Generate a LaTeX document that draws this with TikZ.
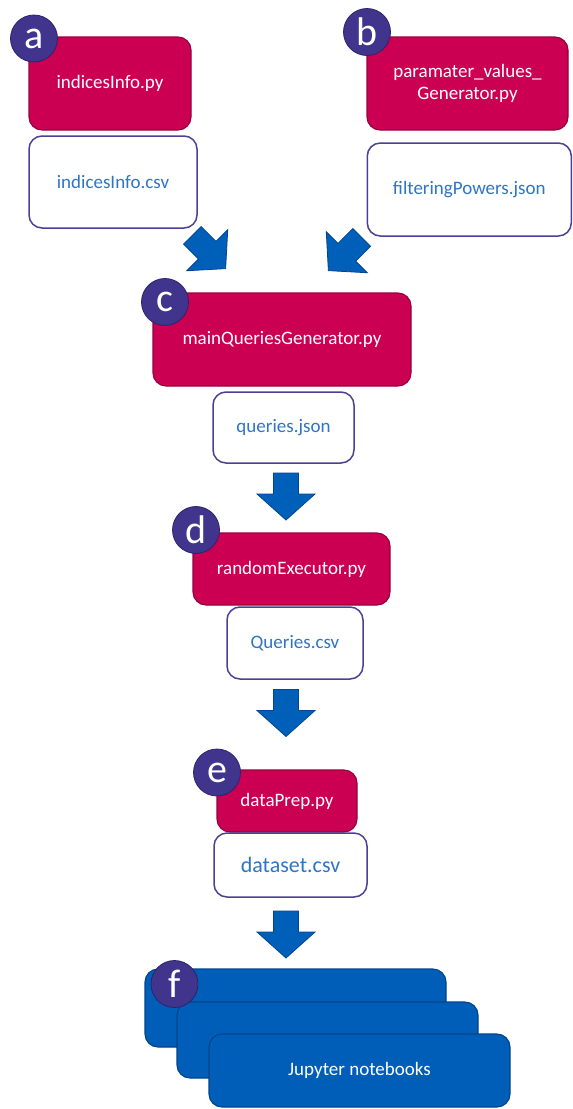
\documentclass[tikz,border=0pt]{standalone}
\usepackage{fontspec}
\setmainfont{Carlito}
\definecolor{scriptfill}{RGB}{204,0,82}
\definecolor{scriptedge}{RGB}{150,0,60}
\definecolor{tagfill}{RGB}{64,52,140}
\definecolor{tagedge}{RGB}{45,35,105}
\definecolor{fileedge}{RGB}{75,63,150}
\definecolor{filetext}{RGB}{46,117,197}
\definecolor{nbfill}{RGB}{0,94,184}
\definecolor{nbedge}{RGB}{0,68,140}
\definecolor{arrowfill}{RGB}{0,96,185}
\definecolor{arrowedge}{RGB}{0,70,145}
\begin{document}
\begin{tikzpicture}[x=1pt,y=-1pt,
  script/.style={draw=scriptedge, fill=scriptfill, rounded corners=13pt,
    line width=1.1pt, text=white, inner sep=0pt, align=center,
    font=\fontsize{19}{22}\selectfont},
  datafile/.style={draw=fileedge, fill=white, rounded corners=13pt,
    line width=1.5pt, text=filetext, inner sep=0pt,
    font=\fontsize{19}{22}\selectfont},
  notebook/.style={draw=nbedge, fill=nbfill, rounded corners=13pt,
    line width=1.1pt, text=white, inner sep=0pt,
    font=\fontsize{19}{22}\selectfont, minimum width=301pt},
  tag/.style={circle, fill=tagfill, draw=tagedge, line width=0.8pt,
    text=white, minimum size=47pt, inner sep=0pt,
    font=\fontsize{40}{40}\selectfont},
  blockarrow/.pic={
    \path[fill=arrowfill, draw=arrowedge, line width=0.8pt, line join=miter]
      (-12.5,-23.5) -- (12.5,-23.5) -- (12.5,-2.5) -- (29,-2.5)
      -- (0,23.5) -- (-29,-2.5) -- (-12.5,-2.5) -- cycle;
  }
]
\useasboundingbox (0,0) rectangle (573,1109);

% step a: index information
\node[script, minimum width=162pt, minimum height=93pt] (idxpy) at (110,83.5) {indicesInfo.py};
\node[datafile, minimum width=168pt, minimum height=92pt] (idxcsv) at (113,182) {indicesInfo.csv};

% step b: parameter values
\node[script, minimum width=201pt, minimum height=93pt] (parpy) at (467.5,83.5) {paramater\_values\_\\Generator.py};
\node[datafile, minimum width=204pt, minimum height=93pt] (powjson) at (469.3,189.5) {filteringPowers.json};

% step c: query generation
\node[script, minimum width=258pt, minimum height=93pt] (mainpy) at (282,339.5) {mainQueriesGenerator.py};
\node[datafile, minimum width=141pt, minimum height=71pt] (qjson) at (283.5,427.5) {queries.json};

% step d: execution
\node[script, minimum width=197pt, minimum height=72pt] (execpy) at (291.5,569) {randomExecutor.py};
\node[datafile, minimum width=136pt, minimum height=72pt] (qcsv) at (295,643) {Queries.csv};

% step e: data preparation
\node[script, minimum width=140pt, minimum height=62pt] (preppy) at (287,801) {dataPrep.py};
\node[datafile, minimum width=153pt, minimum height=64pt, font=\fontsize{22}{24}\selectfont] (dcsv) at (290.5,865) {dataset.csv};

% step f: stacked notebooks
\node[notebook, minimum height=78pt] (nb1) at (295.5,1008) {};
\node[notebook, minimum height=76pt] (nb2) at (327.5,1040) {};
\node[notebook, minimum height=73pt] (nb3) at (359.5,1070.5) {Jupyter notebooks};

% flow arrows
\pic[rotate=45] at (209,252) {blockarrow};
\pic[rotate=-45] at (345,254) {blockarrow};
\pic at (286,496.5) {blockarrow};
\pic at (286,713) {blockarrow};
\pic at (286,934.5) {blockarrow};

% step letters
\node[tag] (ta) at (34,38.5) {a};
\node[tag] (tb) at (367,32) {b};
\node[tag] (tc) at (165,302) {c};
\node[tag] (td) at (196,530) {d};
\node[tag] (te) at (217,772.5) {e};
\node[tag] (tf) at (174.5,984) {f};
\end{tikzpicture}
\end{document}
